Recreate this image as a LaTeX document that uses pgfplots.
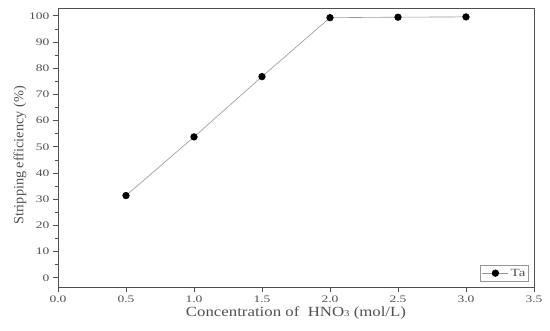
\documentclass[border=0pt]{standalone}
\usepackage{fontspec}
\setmainfont{Liberation Serif}
\newfontfamily\tickfont[FakeStretch=1.35]{Liberation Serif}
\newfontfamily\labfont[FakeStretch=1.2]{Liberation Serif}
\newfontfamily\ylabfont[FakeStretch=1.02]{Liberation Serif}
\usepackage{pgfplots}
\pgfplotsset{compat=1.18}
\definecolor{axgray}{RGB}{80,80,80}
\definecolor{lngray}{RGB}{150,150,150}
\begin{document}
\begin{tikzpicture}
\begin{axis}[
  scale only axis,
  width=476pt, height=279pt,
  xmin=0, xmax=3.5, ymin=-3.5, ymax=103,
  xtick={0,0.5,...,3.5},
  ytick={0,10,...,100},
  minor y tick num=1,
  tick align=outside,
  major tick length=5pt,
  minor tick length=3pt,
  xtick pos=bottom, ytick pos=left,
  axis line style={axgray, line width=0.9pt},
  every tick/.style={axgray, line width=0.8pt},
  /pgf/number format/assume math mode=true,
  xticklabel style={font=\tickfont\fontsize{10}{11}\selectfont, text=axgray},
  yticklabel style={font=\tickfont\fontsize{10}{11}\selectfont, text=axgray},
  xticklabel={\pgfmathprintnumber[fixed,fixed zerofill,precision=1]{\tick}},
  xlabel={Concentration of\ \ HNO{\fontsize{9}{10}\selectfont 3} (mol/L)},
  ylabel={Stripping efficiency (\%)},
  xlabel style={font=\labfont\fontsize{14}{16}\selectfont, text=axgray, yshift=3pt},
  ylabel style={font=\ylabfont\fontsize{14}{16}\selectfont, text=axgray, yshift=-4pt, xshift=-8pt},
  legend style={at={(0.99,0.02)}, anchor=south east, draw=lngray, line width=0.8pt,
    font=\tickfont\fontsize{11}{12}\selectfont, text=axgray, inner sep=1.5pt},
  legend image code/.code={
    \draw[#1, mark=none] (0pt,0pt) -- (26pt,0pt);
    \draw[#1, only marks] plot coordinates {(13pt,0pt)};
  },
  legend cell align=left,
]
\addplot[lngray, line width=0.6pt, mark=*, mark size=3.3pt,
  mark options={fill=black, draw=black}]
  coordinates {(0.5,31.4) (1.0,53.8) (1.5,76.8) (2.0,99.3) (2.5,99.5) (3.0,99.6)};
\addlegendentry{Ta}
\end{axis}
\pgfresetboundingbox
\path (current axis.south west) ++(-58pt,-43pt) rectangle ++(550pt,330pt);
\end{tikzpicture}
\end{document}
